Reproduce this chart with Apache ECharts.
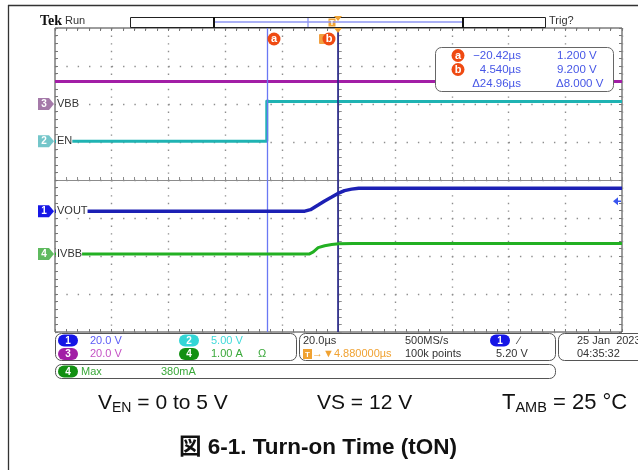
<!DOCTYPE html>
<html><head><meta charset="utf-8">
<script src="https://cdn.jsdelivr.net/npm/echarts@6/dist/echarts.min.js"></script>
<style>html,body{margin:0;padding:0;background:#fff}#c{width:638px;height:470px}</style>
</head><body><div id="c"></div>
<script>
// ---- scope settings ----
const timePerDiv = 20;          // µs / div
const horizPos = 4.88;          // µs at screen centre
const channelNames = ['VOUT', 'EN', 'VBB', 'IVBB'];
const channelNumbers = ['1', '2', '3', '4'];
const channelScale = [20, 5, 20, 1];          // V/div, V/div, V/div, A/div
const channelOffset = [-0.82, 1.02, 2.0, -1.95]; // ground position, div from centre
const channelColors = ['#1c20b4', '#1fb3b3', '#a21ea6', '#22b022'];
const markerColors = ['#1717e6', '#74c6ca', '#a57aa9', '#5fba5f'];
const cursorTimes = [-20.42, 4.54];
const triggerLevel = 5.2;

// ---- waveforms (time µs, value) ----
const vbbTime = [-95.12, 104.88];
const vbbValue = [11.8, 11.8];
const enTime = [-95.12, -20.42, -20.42, -19.6, 104.88];
const enValue = [0, 0, 5.35, 5.22, 5.22];
const voutTime = [-95.12, -7, -5, -2.3, 0, 2.5, 4.54, 7, 9.5, 12, 104.88];
const voutValue = [0, 0, 0.8, 3.2, 5.3, 7.4, 9.2, 10.8, 11.6, 12.1, 12.1];
const ivbbTime = [-95.12, -5.5, -4, -2.3, 0, 2.5, 5, 10, 104.88];
const ivbbValue = [0, 0, 0.06, 0.17, 0.22, 0.25, 0.27, 0.28, 0.28];

// ---- texts ----
const readoutTimes = ['\u221220.42\u00b5s', '4.540\u00b5s', '\u039424.96\u00b5s'];
const readoutValues = ['1.200 V', '9.200 V', '\u03948.000 V'];
const channelSettings = ['20.0 V', '5.00 V', '20.0 V', '1.00 A'];
const settingColors = ['#5a5af6', '#3fdada', '#c452c4', '#3aa83a'];

const GL = 55, GT = 28, GW = 567, GH = 304;
const divH = GH / 8;
const tMin = horizPos - 5 * timePerDiv, tMax = horizPos + 5 * timePerDiv;
const FONT = '"Liberation Sans", Arial, sans-serif';

function zip(a, b) { return a.map((v, i) => [v, b[i]]); }
function groundY(i) { return GT + (4 - channelOffset[i]) * divH; }

const dotColor = '#8e8e8e';
const xAxes = [
  { type: 'value', min: -5, max: 5, interval: 1, axisLabel: { show: false },
    axisLine: { show: true, onZero: true, onZeroAxisIndex: 0, lineStyle: { color: '#8c8c8c', width: 1 } },
    axisTick: { show: true, inside: true, length: 3, lineStyle: { color: '#8c8c8c' } },
    minorTick: { show: true, splitNumber: 5, length: 3, lineStyle: { color: '#8c8c8c' } },
    splitLine: { show: true, lineStyle: { color: dotColor, width: 1.4, type: [1.4, divH / 5 - 1.4] } } },
  { type: 'value', min: -5, max: 5, interval: 1, axisLabel: { show: false },
    axisLine: { show: false, onZero: true, onZeroAxisIndex: 0 },
    axisTick: { show: true, inside: false, length: 3, lineStyle: { color: '#8c8c8c' } },
    minorTick: { show: true, splitNumber: 5, length: 3, lineStyle: { color: '#8c8c8c' } },
    splitLine: { show: false } },
  { type: 'value', min: -5, max: 5, interval: 1, position: 'top', axisLabel: { show: false },
    axisLine: { show: false, onZero: false },
    axisTick: { show: true, inside: true, length: 3, lineStyle: { color: '#777' } },
    minorTick: { show: true, splitNumber: 5, length: 3, lineStyle: { color: '#777' } },
    splitLine: { show: false } },
  { type: 'value', min: -5, max: 5, interval: 1, position: 'bottom', axisLabel: { show: false },
    axisLine: { show: false, onZero: false },
    axisTick: { show: true, inside: true, length: 3, lineStyle: { color: '#777' } },
    minorTick: { show: true, splitNumber: 5, length: 3, lineStyle: { color: '#777' } },
    splitLine: { show: false } },
  { type: 'value', min: tMin, max: tMax, show: false }
];
const yAxes = [
  { type: 'value', min: -4, max: 4, interval: 1, axisLabel: { show: false },
    axisLine: { show: true, onZero: true, onZeroAxisIndex: 0, lineStyle: { color: '#8c8c8c', width: 1 } },
    axisTick: { show: true, inside: true, length: 3, lineStyle: { color: '#8c8c8c' } },
    minorTick: { show: true, splitNumber: 5, length: 3, lineStyle: { color: '#8c8c8c' } },
    splitLine: { show: true, lineStyle: { color: dotColor, width: 1.4, type: [1.4, GW / 50 - 1.4] } } },
  { type: 'value', min: -4, max: 4, interval: 1, axisLabel: { show: false },
    axisLine: { show: false, onZero: true, onZeroAxisIndex: 0 },
    axisTick: { show: true, inside: false, length: 3, lineStyle: { color: '#8c8c8c' } },
    minorTick: { show: true, splitNumber: 5, length: 3, lineStyle: { color: '#8c8c8c' } },
    splitLine: { show: false } },
  { type: 'value', min: -4, max: 4, interval: 1, position: 'left', axisLabel: { show: false },
    axisLine: { show: false, onZero: false },
    axisTick: { show: true, inside: true, length: 3, lineStyle: { color: '#777' } },
    minorTick: { show: true, splitNumber: 5, length: 3, lineStyle: { color: '#777' } },
    splitLine: { show: false } },
  { type: 'value', min: -4, max: 4, interval: 1, position: 'right', axisLabel: { show: false },
    axisLine: { show: false, onZero: false },
    axisTick: { show: true, inside: true, length: 3, lineStyle: { color: '#777' } },
    minorTick: { show: true, splitNumber: 5, length: 3, lineStyle: { color: '#777' } },
    splitLine: { show: false } }
];
channelScale.forEach((s, i) => {
  yAxes.push({ type: 'value', show: false, min: (-4 - channelOffset[i]) * s, max: (4 - channelOffset[i]) * s });
});

const waves = [zip(voutTime, voutValue), zip(enTime, enValue), zip(vbbTime, vbbValue), zip(ivbbTime, ivbbValue)];
const drawOrder = [2, 1, 0, 3];
const series = drawOrder.map((ch, k) => ({
  type: 'line', name: channelNames[ch], xAxisIndex: 4, yAxisIndex: 4 + ch,
  data: waves[ch], showSymbol: false, symbol: 'none', z: 3 + k, silent: true,
  lineStyle: { color: channelColors[ch], width: ch === 0 ? 3.5 : 3 },
  markLine: k === 0 ? { silent: true, symbol: 'none', label: { show: false }, animation: false,
    data: [
      { xAxis: cursorTimes[0], lineStyle: { color: '#6a78f4', width: 1.3, type: 'solid' } },
      { xAxis: cursorTimes[1], lineStyle: { color: '#23238a', width: 1.6, type: 'solid' } }
    ] } : undefined
}));

// ---- graphics ----
const g = [];
function txt(x, y, text, o) {
  o = o || {};
  g.push({ type: 'text', x: x, y: y, z: 100, style: Object.assign({ text: text, fill: '#222', font: '11px ' + FONT,
    textAlign: 'left', textVerticalAlign: 'middle' }, o) });
}
function rect(x, y, w, h, o) { g.push({ type: 'rect', z: 90, shape: { x: x, y: y, width: w, height: h, r: o.r || 0 }, style: { fill: o.fill || 'none', stroke: o.stroke || null, lineWidth: o.lw || 1 } }); }
function line(x1, y1, x2, y2, c, w) { g.push({ type: 'line', z: 95, shape: { x1: x1, y1: y1, x2: x2, y2: y2 }, style: { stroke: c, lineWidth: w || 1 } }); }
function pill(cx, cy, label, color) {
  rect(cx - 10, cy - 6, 20, 12, { r: 6, fill: color });
  txt(cx, cy + 0.5, label, { fill: '#fff', textAlign: 'center', font: 'bold 10px ' + FONT });
}
function cursorBadge(cx, cy, label) {
  g.push({ type: 'circle', z: 96, shape: { cx: cx, cy: cy, r: 6.5 }, style: { fill: '#ef4a12' } });
  txt(cx, cy, label, { fill: '#fff', textAlign: 'center', font: 'bold 11px ' + FONT });
}

// figure frame
line(8.5, 5, 8.5, 470, '#333', 1.3);
line(8, 5.5, 638, 5.5, '#333', 1.3);

// top bar
txt(40, 21, 'Tek', { font: 'bold 14px "Liberation Serif", serif', fill: '#111' });
txt(65, 21, 'Run', { font: '11px ' + FONT, fill: '#333' });
rect(130.5, 17.5, 415, 10, { stroke: '#222' });
line(214, 17, 214, 28, '#111', 2);
line(463, 17, 463, 28, '#111', 2);
line(215, 22, 462, 22, '#8e96f2', 1.5);
line(308, 18, 308, 27, '#8e96f2', 1.3);
txt(549, 21, 'Trig?', { font: '11px ' + FONT, fill: '#333' });
// trigger / expansion marks
rect(328.5, 18.5, 7, 8, { fill: '#f0a232' });
txt(332, 22.5, 'T', { fill: '#fff', textAlign: 'center', font: 'bold 8px ' + FONT });
g.push({ type: 'polygon', z: 96, shape: { points: [[334, 16], [342, 16], [338, 21]] }, style: { fill: '#f0a232' } });
g.push({ type: 'polygon', z: 96, shape: { points: [[334, 28], [342, 28], [338, 33]] }, style: { fill: '#f0a232' } });

// cursor badges
cursorBadge(274, 39, 'a');
rect(319, 34, 6, 10, { fill: '#f2a040', r: 1 });
cursorBadge(329, 39, 'b');

// readout box
rect(435.5, 47.5, 178, 44, { r: 6, fill: '#fff', stroke: '#666' });
const rowY = [55.5, 69.5, 83.5];
cursorBadge(458, rowY[0], 'a');
cursorBadge(458, rowY[1], 'b');
readoutTimes.forEach((t, i) => txt(521, rowY[i], t, { textAlign: 'right', fill: '#4656e6', font: '11.5px ' + FONT }));
readoutValues.forEach((t, i) => txt(i === 2 ? 556 : 557, rowY[i], t, { fill: '#4656e6', font: '11.5px ' + FONT }));

// channel markers and labels
channelNames.forEach((n, i) => {
  const y = groundY(i);
  g.push({ type: 'polygon', z: 96, shape: { points: [[38, y - 6], [49, y - 6], [54, y], [49, y + 6], [38, y + 6]] }, style: { fill: markerColors[i] } });
  txt(44, y + 0.5, channelNumbers[i], { fill: '#fff', textAlign: 'center', font: 'bold 10px ' + FONT });
  txt(56, y, n, { fill: '#333', font: '11px ' + FONT, backgroundColor: '#fff', padding: [1, 0, 1, 1] });
});
// trigger level arrow (ch1)
const trigY = groundY(0) - triggerLevel / channelScale[0] * divH;
g.push({ type: 'polygon', z: 96, shape: { points: [[613, trigY], [618, trigY - 4], [618, trigY + 4]] }, style: { fill: '#3a56ee' } });
line(617, trigY, 621, trigY, '#3a56ee', 1.5);

// bottom status
rect(55.5, 333.5, 241, 27, { r: 6, fill: '#fff', stroke: '#555' });
rect(299.5, 333.5, 256, 27, { r: 6, fill: '#fff', stroke: '#555' });
rect(558.5, 333.5, 100, 27, { r: 6, fill: '#fff', stroke: '#555' });
rect(55.5, 364.5, 500, 14, { r: 6, fill: '#fff', stroke: '#555' });
const r1 = 340.5, r2 = 354;
pill(68, r1, '1', '#1515e6');
pill(189, r1, '2', '#33d6d6');
pill(68, r2, '3', '#a21ea6');
pill(189, r2, '4', '#129012');
txt(90, r1, channelSettings[0], { fill: settingColors[0] });
txt(211, r1, channelSettings[1], { fill: settingColors[1] });
txt(90, r2, channelSettings[2], { fill: settingColors[2] });
txt(211, r2, channelSettings[3], { fill: settingColors[3] });
txt(258, r2, '\u03a9', { fill: settingColors[3] });
txt(303, r1, '20.0\u00b5s', { fill: '#333' });
rect(303, r2 - 5, 9, 10, { fill: '#f0a232' });
txt(307.5, r2 + 0.5, 'T', { fill: '#fff', textAlign: 'center', font: 'bold 8px ' + FONT });
txt(312, r2, '\u2192\u25bc4.880000\u00b5s', { fill: '#f0a232' });
txt(405, r1, '500MS/s', { fill: '#333' });
txt(405, r2, '100k points', { fill: '#333' });
pill(500, r1, '1', '#1515e6');
txt(518, r1, '\u2215', { fill: '#333' });
txt(496, r2, '5.20 V', { fill: '#333' });
txt(577, r1, '25 Jan  2023', { fill: '#333' });
txt(577, r2, '04:35:32', { fill: '#333' });
pill(68, 371.5, '4', '#129012');
txt(81, 371.5, 'Max', { fill: settingColors[3] });
txt(161, 371.5, '380mA', { fill: settingColors[3] });

// conditions and caption
g.push({ type: 'text', x: 98, y: 403, z: 100, style: { text: '{m|V}{s|EN}{m| = 0 to 5 V}', textVerticalAlign: 'middle',
  rich: { m: { fontSize: 21, fontFamily: FONT, fill: '#111', lineHeight: 24 }, s: { fontSize: 14, fontFamily: FONT, fill: '#111', lineHeight: 14, verticalAlign: 'bottom' } } } });
txt(317, 403, 'VS = 12 V', { font: '21px ' + FONT, fill: '#111' });
g.push({ type: 'text', x: 502, y: 403, z: 100, style: { text: '{m|T}{s|AMB}{m| = 25 \u00b0C}', textVerticalAlign: 'middle',
  rich: { m: { fontSize: 22, fontFamily: FONT, fill: '#111', lineHeight: 24 }, s: { fontSize: 14.5, fontFamily: FONT, fill: '#111', lineHeight: 14, verticalAlign: 'bottom' } } } });
txt(179, 448, '\u56f3 6-1. Turn-on Time (tON)', { font: 'bold 22.5px "Liberation Sans", "Noto Sans CJK JP", sans-serif', fill: '#111' });

const chart = echarts.init(document.getElementById('c'), null, { renderer: 'canvas' });
chart.setOption({
  backgroundColor: '#fff',
  animation: false,
  grid: { left: GL, top: GT, width: GW, height: GH, show: true, borderColor: '#3a3a3a', borderWidth: 1, backgroundColor: 'transparent' },
  xAxis: xAxes,
  yAxis: yAxes,
  series: series,
  graphic: { elements: g }
});
</script>
</body></html>
